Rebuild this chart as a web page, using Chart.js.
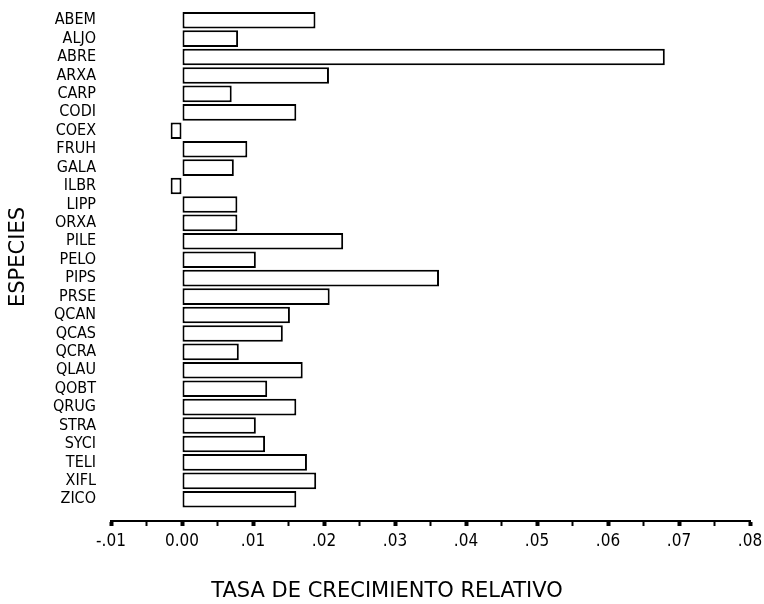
<!DOCTYPE html>
<html><head><meta charset="utf-8">
<script src="https://cdn.jsdelivr.net/npm/chart.js@4/dist/chart.umd.min.js"></script>
<style>html,body{margin:0;padding:0;background:#fff}</style>
</head><body>
<canvas id="c" width="764" height="604"></canvas>
<script>
const species = ['ABEM','ALJO','ABRE','ARXA','CARP','CODI','COEX','FRUH','GALA','ILBR','LIPP','ORXA','PILE','PELO','PIPS','PRSE','QCAN','QCAS','QCRA','QLAU','QOBT','QRUG','STRA','SYCI','TELI','XIFL','ZICO'];
const growthRate = [0.0188,0.0079,0.0680,0.0207,0.0070,0.0161,-0.0016,0.0092,0.0073,-0.0016,0.0078,0.0078,0.0227,0.0104,0.0362,0.0208,0.0152,0.0142,0.0080,0.0170,0.0120,0.0161,0.0104,0.0117,0.0176,0.0189,0.0161];
const xTickLabels = ['-.01','0.00','.01','.02','.03','.04','.05','.06','.07','.08'];
const xTitle = 'TASA DE CRECIMIENTO RELATIVO';
const yTitle = 'ESPECIES';

const FONT = "'DejaVu Sans Condensed', 'Liberation Sans Narrow', 'DejaVu Sans', sans-serif";

const titlePlugin = {
  id: 'axisTitles',
  afterDraw(chart) {
    const ctx = chart.ctx;
    ctx.save();
    ctx.fillStyle = '#000';
    ctx.textAlign = 'center';
    ctx.textBaseline = 'middle';
    ctx.font = "21px 'DejaVu Sans', sans-serif";
    ctx.fillText(xTitle, 387, 592);
    ctx.translate(19, 257);
    ctx.rotate(-Math.PI / 2);
    ctx.font = "21px 'DejaVu Sans', sans-serif";
    ctx.fillText(yTitle, 0, 0);
    ctx.restore();
  }
};

new Chart(document.getElementById('c'), {
  type: 'bar',
  data: {
    labels: species,
    datasets: [{
      data: growthRate,
      backgroundColor: '#fff',
      borderColor: '#000',
      borderWidth: 2,
      borderSkipped: false,
      barPercentage: 0.9,
      categoryPercentage: 1
    }]
  },
  options: {
    indexAxis: 'y',
    responsive: false,
    animation: false,
    layout: { padding: { top: 11, right: 14, left: 0, bottom: 0 } },
    plugins: { legend: { display: false }, tooltip: { enabled: false } },
    scales: {
      x: {
        type: 'linear',
        min: -0.01,
        max: 0.08,
        afterFit: s => { s.height = 83; s.paddingLeft = 0; s.paddingRight = 0; },
        grid: { drawOnChartArea: false, drawTicks: true, tickLength: 5, color: '#000',
                tickWidth: c => (c.index % 2 === 0 ? 4 : 2) },
        border: { display: true, color: '#000', width: 2 },
        ticks: {
          stepSize: 0.005, autoSkip: false, maxRotation: 0, padding: 5,
          color: '#000', font: { family: FONT, size: 17 },
          callback: (v, i) => (i % 2 === 0 ? xTickLabels[i / 2] : '')
        }
      },
      y: {
        type: 'category',
        offset: true,
        afterFit: s => { s.width = 111; s.paddingTop = 0; s.paddingBottom = 0; },
        afterBuildTicks: s => { s._valueRange = 27.68; },
        grid: { display: false, drawTicks: false },
        border: { display: false },
        ticks: { autoSkip: false, padding: 15, color: '#000', font: { family: FONT, size: 16 } }
      }
    }
  },
  plugins: [titlePlugin]
});
</script>
</body></html>
